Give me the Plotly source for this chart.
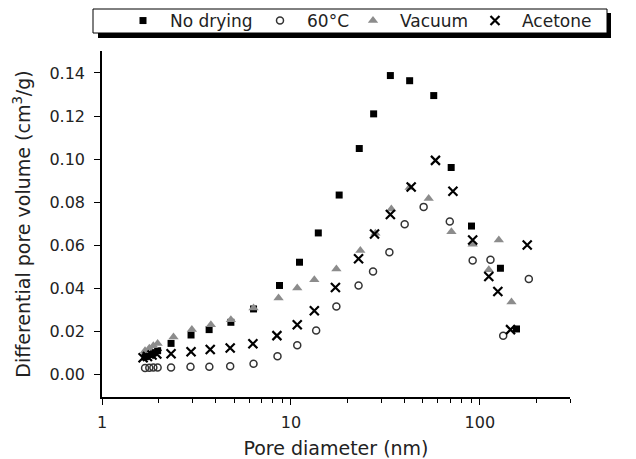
import plotly.graph_objects as go

# ---- data ----
nodry_x = [1.69, 1.78, 1.87, 1.97, 2.32, 2.96, 3.69, 4.81, 6.34, 8.70, 11.1, 13.96, 18.0, 23.0, 27.4, 33.6, 42.5, 57.0, 70.5, 90.3, 128.5, 156.3]
nodry_y = [0.0082, 0.0092, 0.0100, 0.0110, 0.0144, 0.0183, 0.0208, 0.0242, 0.0304, 0.0413, 0.0521, 0.0657, 0.0833, 0.1049, 0.1210, 0.1388, 0.1364, 0.1295, 0.0961, 0.0689, 0.0493, 0.0211]

c60_x = [1.69, 1.78, 1.87, 1.97, 2.32, 2.94, 3.70, 4.77, 6.34, 8.49, 10.8, 13.6, 17.4, 22.8, 27.2, 33.2, 40.0, 50.4, 69.3, 91.6, 113.8, 132.9, 181.6]
c60_y = [0.0030, 0.0031, 0.0032, 0.0032, 0.0032, 0.0035, 0.0035, 0.0038, 0.0049, 0.0084, 0.0135, 0.0204, 0.0315, 0.0413, 0.0478, 0.0567, 0.0697, 0.0778, 0.0710, 0.0529, 0.0532, 0.0180, 0.0443]

vac_x = [1.69, 1.78, 1.87, 1.97, 2.39, 2.99, 3.77, 4.81, 6.34, 8.60, 10.8, 13.3, 17.4, 23.3, 28.0, 34.0, 42.5, 53.6, 70.7, 91.6, 111.5, 126.0, 147.0]
vac_y = [0.0110, 0.0122, 0.0133, 0.0143, 0.0174, 0.0208, 0.0231, 0.0254, 0.0308, 0.0355, 0.0401, 0.0439, 0.0490, 0.0575, 0.0655, 0.0768, 0.0868, 0.0817, 0.0663, 0.0604, 0.0486, 0.0624, 0.0336]

ace_x = [1.65, 1.74, 1.84, 1.95, 2.32, 2.96, 3.74, 4.77, 6.29, 8.43, 10.8, 13.3, 17.2, 22.8, 27.7, 33.6, 43.3, 58.2, 72.0, 91.6, 111.5, 124.5, 145.3, 178.1]
ace_y = [0.0077, 0.0083, 0.0090, 0.0095, 0.0096, 0.0105, 0.0116, 0.0123, 0.0142, 0.0180, 0.0231, 0.0296, 0.0404, 0.0537, 0.0652, 0.0743, 0.0870, 0.0994, 0.0851, 0.0624, 0.0455, 0.0385, 0.0208, 0.0601]

names = ["No drying", "60°C", "Vacuum", "Acetone"]
y_ticks = [0.00, 0.02, 0.04, 0.06, 0.08, 0.10, 0.12, 0.14]
x_ticks = [1, 10, 100]

FONT = "DejaVu Sans"
W, H = 636, 459
L, R, T, B = 102, 570, 51, 397
PW, PH = R - L, B - T


def px2paper_x(p):
    return (p - L) / PW


def px2paper_y(p):
    return (B - p) / PH


legend_ids = ["legend", "legend2", "legend3", "legend4"]
legend_marker_px = [143, 280, 373, 495]

fig = go.Figure()
fig.add_trace(go.Scatter(x=nodry_x, y=nodry_y, mode="markers", name=names[0], legend=legend_ids[0],
                         marker=dict(symbol="square", size=7, color="black")))
fig.add_trace(go.Scatter(x=c60_x, y=c60_y, mode="markers", name=names[1], legend=legend_ids[1],
                         marker=dict(symbol="circle-open", size=7, color="#333333",
                                     line=dict(width=1.5, color="#333333"))))
fig.add_trace(go.Scatter(x=vac_x, y=vac_y, mode="markers", name=names[2], legend=legend_ids[2],
                         marker=dict(symbol="triangle-up", size=9, color="#8c8c8c")))
fig.add_trace(go.Scatter(x=ace_x, y=ace_y, mode="markers", name=names[3], legend=legend_ids[3],
                         marker=dict(symbol="x-thin-open", size=9, color="black",
                                     line=dict(width=2.2, color="black"))))

# legend box with drop shadow
fig.add_shape(type="rect", xref="paper", yref="paper",
              x0=px2paper_x(98), x1=px2paper_x(611), y0=px2paper_y(38), y1=px2paper_y(13),
              fillcolor="black", line=dict(width=0), layer="above")
fig.add_shape(type="rect", xref="paper", yref="paper",
              x0=px2paper_x(93), x1=px2paper_x(607), y0=px2paper_y(33), y1=px2paper_y(9),
              fillcolor="white", line=dict(width=1, color="black"), layer="above")

legends = {}
for lid, mpx in zip(legend_ids, legend_marker_px):
    legends[lid] = dict(orientation="h", xref="container", yref="container",
                        x=(mpx - 27) / W, xanchor="left", y=1 - 21 / H, yanchor="middle",
                        bgcolor="rgba(0,0,0,0)", borderwidth=0, itemwidth=44,
                        font=dict(family=FONT, size=17, color="#222222"))

fig.update_layout(
    width=W, height=H,
    margin=dict(l=L, r=W - R, t=T, b=H - B, autoexpand=False),
    paper_bgcolor="white", plot_bgcolor="white",
    font=dict(family=FONT, size=16, color="#222222"),
    showlegend=True,
    **legends,
    xaxis=dict(type="log", range=[0, 2.4771], showgrid=False, zeroline=False,
               showline=True, linecolor="black", linewidth=1.5,
               ticks="outside", ticklen=6, tickwidth=1.2, tickcolor="black",
               tickvals=x_ticks, ticktext=[str(v) for v in x_ticks],
               minor=dict(ticks="outside", ticklen=4, tickwidth=1, tickcolor="black",
                          tickvals=[2, 3, 4, 5, 6, 7, 8, 9, 20, 30, 40, 50, 60, 70, 80, 90, 200, 300]),
               ticklabelstandoff=4,
               title=dict(text="Pore diameter (nm)", font=dict(size=19, color="#222222"), standoff=13)),
    yaxis=dict(range=[-0.0105, 0.1502], showgrid=False, zeroline=False,
               showline=True, linecolor="black", linewidth=1.5,
               ticks="outside", ticklen=6, tickwidth=1.2, tickcolor="black",
               tickvals=y_ticks, ticktext=["%.2f" % v for v in y_ticks],
               ticklabelstandoff=6,
               title=dict(text="Differential pore volume (cm<sup>3</sup>/g)",
                          font=dict(size=19, color="#222222"), standoff=14)),
)

fig.write_html("out.html")
